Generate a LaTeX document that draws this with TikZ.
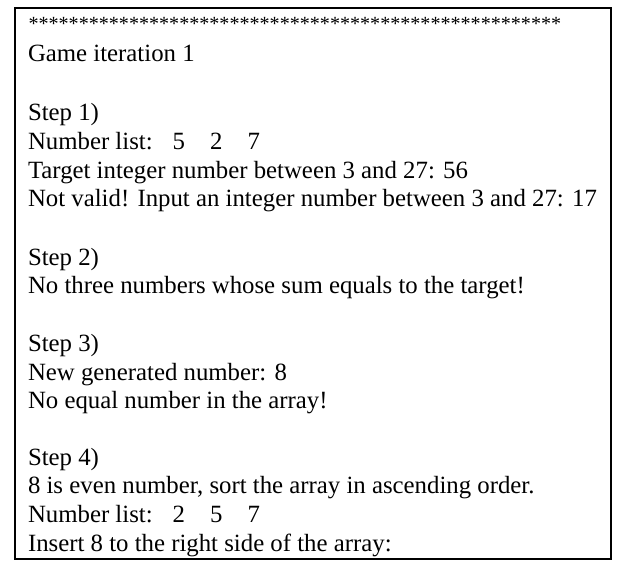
\documentclass[tikz,border=0pt]{standalone}
\usepackage{fontspec}
\setmainfont{Liberation Serif}
\begin{document}
\begin{tikzpicture}[x=1pt,y=-1pt,
  txt/.style={anchor=base west,inner sep=0pt,outer sep=0pt,font=\fontsize{24.8}{28}\selectfont},
  stars/.style={anchor=base west,inner sep=0pt,outer sep=0pt,font=\fontsize{20.1}{24}\selectfont},
  frame/.style={draw=black,line width=2pt}]
\useasboundingbox (0,0) rectangle (631,568);
\fill[white] (0,0) rectangle (631,568);
\draw[frame] (15,8.3) rectangle (611.3,559);
\node[stars] (l0) at (28.5,30) {*****************************************************};
\node[txt] (l1) at (28,61.7) {Game iteration 1};
\node[txt] (l2) at (28,120.5) {Step 1)};
\node[txt] (l3) at (28,149.5) {Number list:};
\node[txt] (l3a) at (172.5,149.5) {5};
\node[txt] (l3b) at (210,149.5) {2};
\node[txt] (l3c) at (247.5,149.5) {7};
\node[txt] (l4) at (28,178) {Target integer number between 3 and 27: 56};
\node[txt] (l5) at (28,206.7) {Not valid! Input an integer number between 3 and 27: 17};
\node[txt] (l6) at (28,265) {Step 2)};
\node[txt] (l7) at (28,293.5) {No three numbers whose sum equals to the target!};
\node[txt] (l8) at (28,351.7) {Step 3)};
\node[txt] (l9) at (28,380) {New generated number: 8};
\node[txt] (l10) at (28,408.5) {No equal number in the array!};
\node[txt] (l11) at (28,465) {Step 4)};
\node[txt] (l12) at (28,493.5) {8 is even number, sort the array in ascending order.};
\node[txt] (l13) at (28,522) {Number list:};
\node[txt] (l13a) at (172.5,522) {2};
\node[txt] (l13b) at (210,522) {5};
\node[txt] (l13c) at (247.5,522) {7};
\node[txt] (l14) at (28,551) {Insert 8 to the right side of the array:};
\end{tikzpicture}
\end{document}
